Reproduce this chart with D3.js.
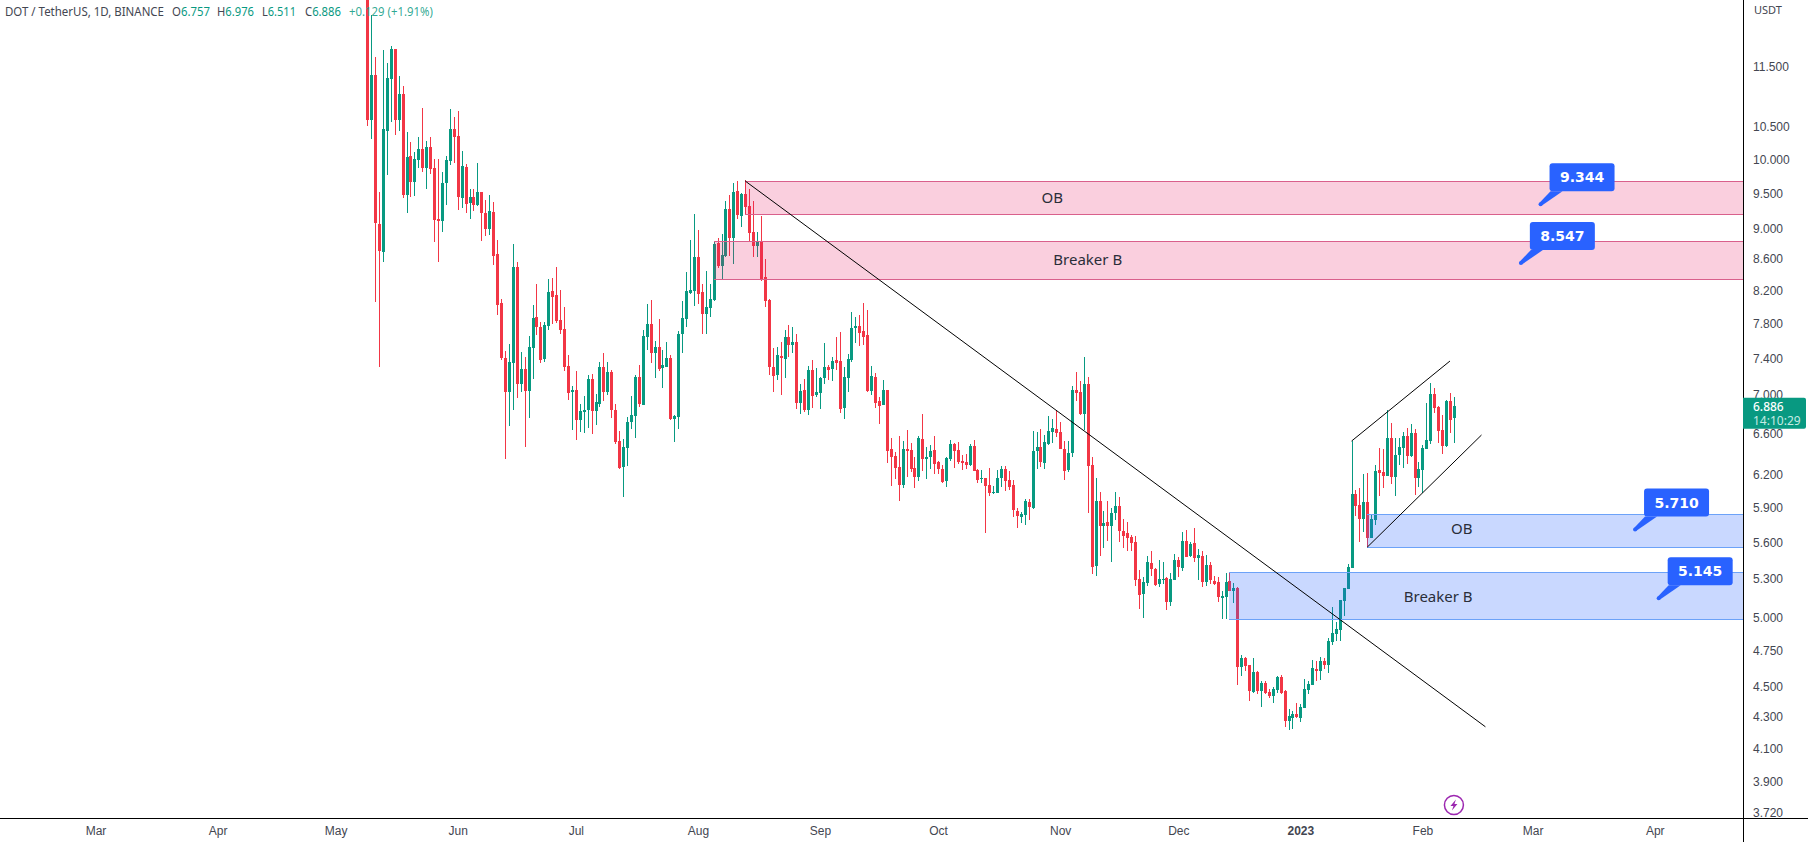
<!DOCTYPE html>
<html>
<head>
<meta charset="utf-8">
<style>
  html, body { margin: 0; padding: 0; background: #fff; overflow: hidden; }
  svg { display: block; font-family: "Noto Sans", sans-serif; }
  .tick text { fill: #434651; font-size: 12px; }
  .domain { display: none; }
</style>
<script src="https://cdnjs.cloudflare.com/ajax/libs/d3/7.8.5/d3.min.js"></script>
</head>
<body>
<svg id="chart" width="1808" height="842"></svg>
<script>
// daily DOT/USDT candles, first one is 2022-05-09
const firstDay = new Date(Date.UTC(2022, 4, 9));

const opens = [
  13.4,10.613,11.361,9.067,8.691,10.438,11.292,11.817,10.613,11.04,
  9.474,10.05,9.662,9.989,10.157,9.869,10.188,9.869,9.136,9.108,
  9.647,9.974,10.47,10.36,9.43,9.883,9.36,9.445,9.33,9.517,
  9.22,8.998,9.233,8.665,8.045,7.40,7.03,7.347,8.495,7.117,
  7.28,7.04,7.515,7.877,7.758,7.39,7.77,8.19,8.144,7.84,
  7.735,7.315,7.03,7.053,6.739,6.82,6.842,7.17,6.83,6.905,
  7.30,7.03,7.247,6.842,6.528,6.277,6.46,6.72,6.78,7.193,
  6.895,7.64,7.794,7.46,7.527,7.29,7.30,7.40,6.75,6.77,
  7.677,7.853,8.168,8.193,8.625,8.18,7.913,7.983,8.082,8.81,
  8.508,8.638,9.275,8.877,9.53,9.176,9.488,9.318,8.958,8.77,
  8.837,8.368,8.082,7.30,7.215,7.425,7.39,7.64,7.55,7.585,
  6.915,7.053,6.842,7.269,7.0,7.02,7.18,7.30,7.28,7.38,
  7.369,6.863,7.18,7.38,7.747,7.77,7.712,7.665,7.04,7.193,
  6.936,6.894,7.053,6.45,6.38,6.277,6.108,6.45,6.44,6.267,
  6.18,6.548,6.353,6.372,6.44,6.324,6.258,6.145,6.353,6.498,
  6.44,6.334,6.324,6.296,6.478,6.248,6.163,6.172,6.108,6.035,
  6.035,6.172,6.258,6.154,6.108,5.872,5.82,5.837,5.953,5.90,
  6.43,6.47,6.315,6.498,6.618,6.648,6.618,6.45,6.248,6.41,
  7.053,7.03,6.80,7.117,6.296,5.402,5.962,5.74,5.776,5.74,
  5.855,5.917,5.697,5.68,5.646,5.603,5.298,5.18,5.266,5.428,
  5.378,5.258,5.29,5.306,5.116,5.29,5.452,5.386,5.61,5.485,
  5.594,5.468,5.485,5.274,5.41,5.282,5.274,5.147,5.155,5.282,
  5.20,5.226,4.637,4.70,4.651,4.465,4.602,4.472,4.526,4.465,
  4.438,4.478,4.568,4.472,4.273,4.293,4.32,4.293,4.358,4.478,
  4.512,4.623,4.609,4.68,4.651,4.816,4.875,4.904,5.124,5.218,
  5.386,6.026,5.926,5.80,5.953,5.637,5.793,6.248,6.23,6.192,
  6.558,6.18,6.39,6.46,6.578,6.38,6.608,6.172,6.248,6.45,
  6.528,7.01,6.873,6.638,6.478,6.936,6.757
];

const highs = [
  14.2,12.441,11.68,9.517,11.799,11.57,11.87,11.82,11.34,11.17,
  10.42,10.27,10.11,10.345,10.81,10.28,10.345,10.0,10.0,9.81,
  10.05,10.79,10.66,10.76,10.13,9.93,9.56,9.56,9.94,9.52,
  9.40,9.47,9.37,8.85,8.10,7.48,7.56,8.80,8.56,7.47,
  7.41,7.65,8.02,8.28,7.82,7.82,8.34,8.36,8.495,8.205,
  7.995,7.435,7.095,7.26,6.90,6.99,7.21,7.23,7.01,7.36,
  7.46,7.36,7.27,6.90,6.63,6.55,6.77,6.99,7.215,7.325,
  7.72,8.03,8.08,7.595,7.85,7.49,7.585,7.435,6.79,7.71,
  8.07,8.43,8.85,9.20,8.985,8.28,8.445,8.28,8.837,8.877,
  8.93,9.39,9.47,9.647,9.68,9.50,9.69,9.56,9.39,8.958,
  9.18,8.60,8.094,7.515,7.527,7.585,7.72,7.78,7.758,7.677,
  7.117,7.17,7.315,7.38,7.29,7.193,7.57,7.325,7.41,7.64,
  7.70,7.30,7.447,7.937,7.877,7.90,8.045,7.96,7.315,7.236,
  6.98,7.16,7.053,6.558,6.42,6.578,6.528,6.638,6.51,6.372,
  6.578,6.80,6.47,6.49,6.578,6.334,6.296,6.372,6.538,6.51,
  6.518,6.39,6.40,6.498,6.538,6.258,6.248,6.172,6.267,6.099,
  6.248,6.286,6.286,6.239,6.154,5.90,5.864,5.98,5.98,6.628,
  6.62,6.648,6.588,6.78,6.75,6.842,6.72,6.528,6.528,7.095,
  7.247,7.15,7.41,7.193,6.372,6.172,6.044,5.872,5.962,5.90,
  6.044,5.998,5.80,5.776,5.663,5.654,5.37,5.315,5.485,5.527,
  5.386,5.452,5.436,5.314,5.345,5.502,5.477,5.688,5.706,5.603,
  5.723,5.543,5.527,5.494,5.436,5.322,5.314,5.20,5.345,5.353,
  5.266,5.234,4.722,4.708,4.651,4.70,4.61,4.54,4.54,4.485,
  4.498,4.575,4.58,4.478,4.352,4.339,4.39,4.385,4.553,4.54,
  4.686,4.68,4.708,4.70,4.845,5.078,4.965,5.132,5.226,5.42,
  6.528,6.062,6.08,6.21,6.22,5.846,6.296,6.46,6.45,6.842,
  6.71,6.558,6.558,6.618,6.658,6.70,6.648,6.324,6.49,6.915,
  7.127,7.074,6.884,6.79,6.947,7.02,6.976
];

const lows = [
  10.518,10.31,8.06,7.305,8.56,9.765,10.58,10.375,10.44,9.43,
  9.22,9.445,9.46,9.87,9.81,9.56,9.78,8.82,8.56,8.96,
  9.33,9.91,9.94,9.26,9.29,9.22,9.136,9.25,9.32,8.84,
  8.905,8.92,8.52,7.90,7.38,6.35,6.68,6.84,6.97,7.03,
  6.47,6.76,7.17,7.665,7.35,7.36,7.72,7.79,7.805,7.68,
  7.26,6.947,6.638,6.538,6.62,6.61,6.66,6.60,6.69,6.87,
  6.935,7.0,6.76,6.50,6.258,5.998,6.286,6.65,6.56,6.87,
  6.895,7.49,7.35,7.18,7.26,7.075,7.30,6.74,6.52,6.65,
  7.46,7.76,8.155,8.01,8.03,7.68,7.68,7.877,8.07,8.48,
  8.34,8.625,8.638,8.535,9.136,9.03,9.19,8.84,8.625,8.625,
  8.32,7.995,7.215,7.03,7.16,7.0,7.18,7.41,7.46,6.853,
  6.80,6.82,6.79,6.863,6.98,6.853,7.117,7.16,7.15,7.269,
  6.81,6.75,7.03,7.358,7.57,7.54,7.55,7.03,7.0,6.863,
  6.70,6.894,6.315,6.10,6.163,5.962,6.08,6.18,6.23,6.08,
  6.145,6.24,6.163,6.258,6.21,6.21,6.127,6.09,6.334,6.267,
  6.305,6.248,6.258,6.286,6.239,6.127,6.127,5.68,6.007,6.026,
  6.035,6.09,6.053,6.062,5.82,5.723,5.767,5.75,5.793,5.89,
  6.258,6.277,6.258,6.49,6.51,6.568,6.45,6.154,6.23,6.372,
  6.936,6.79,6.638,5.855,5.337,5.322,5.485,5.552,5.61,5.436,
  5.793,5.603,5.552,5.53,5.527,5.24,5.063,4.994,5.24,5.322,
  5.24,5.234,5.258,5.055,5.085,5.29,5.314,5.362,5.477,5.477,
  5.436,5.29,5.234,5.24,5.258,5.25,5.116,4.987,4.987,5.20,
  5.108,4.512,4.575,4.61,4.404,4.458,4.451,4.365,4.451,4.425,
  4.39,4.458,4.451,4.235,4.215,4.222,4.293,4.267,4.358,4.451,
  4.512,4.54,4.547,4.623,4.595,4.794,4.823,4.823,5.01,5.218,
  5.386,5.828,5.603,5.688,5.56,5.637,5.75,6.007,6.08,6.192,
  6.118,6.007,6.296,6.267,6.305,6.372,6.016,6.09,6.035,6.45,
  6.498,6.81,6.508,6.40,6.47,6.608,6.511
];

const closes = [
  10.613,11.361,9.081,8.704,10.47,11.309,11.817,10.613,11.04,9.474,
  10.035,9.662,10.0,10.157,9.869,10.188,9.854,9.122,9.108,9.647,
  9.989,10.47,10.345,9.445,9.898,9.346,9.445,9.33,9.517,9.22,
  8.998,9.25,8.638,8.02,7.40,7.03,7.358,8.495,7.117,7.28,
  7.04,7.527,7.865,7.758,7.38,7.78,8.18,8.12,7.83,7.72,
  7.30,7.02,7.053,6.739,6.832,6.842,7.17,6.83,6.925,7.30,
  7.03,7.247,6.842,6.518,6.267,6.47,6.72,6.79,7.193,6.905,
  7.653,7.794,7.46,7.527,7.28,7.325,7.40,6.75,6.78,7.677,
  7.865,8.193,8.205,8.625,8.155,7.913,7.995,8.094,8.797,8.508,
  8.65,9.275,8.877,9.517,9.19,9.488,9.30,8.945,8.77,8.837,
  8.343,8.07,7.30,7.204,7.436,7.40,7.64,7.55,7.585,6.915,
  7.04,6.842,7.269,6.99,7.03,7.18,7.30,7.269,7.37,7.347,
  6.853,7.193,7.39,7.747,7.77,7.688,7.64,7.04,7.204,6.915,
  6.884,7.053,6.43,6.372,6.267,6.108,6.45,6.43,6.258,6.18,
  6.558,6.353,6.372,6.43,6.305,6.258,6.136,6.362,6.498,6.43,
  6.324,6.315,6.296,6.478,6.239,6.154,6.172,6.099,6.035,6.044,
  6.172,6.258,6.145,6.09,5.881,5.828,5.846,5.962,5.908,6.43,
  6.47,6.324,6.518,6.628,6.658,6.608,6.45,6.239,6.41,7.053,
  7.02,6.80,7.117,6.286,5.394,5.962,5.74,5.767,5.74,5.855,
  5.917,5.697,5.654,5.637,5.594,5.29,5.17,5.274,5.436,5.378,
  5.25,5.298,5.298,5.116,5.298,5.452,5.394,5.61,5.477,5.586,
  5.468,5.494,5.274,5.41,5.29,5.258,5.155,5.163,5.274,5.20,
  5.226,4.637,4.70,4.644,4.472,4.602,4.472,4.526,4.458,4.438,
  4.485,4.568,4.458,4.273,4.305,4.32,4.30,4.365,4.485,4.52,
  4.63,4.609,4.68,4.651,4.823,4.882,4.911,5.132,5.226,5.394,
  6.026,5.917,5.80,5.953,5.637,5.80,6.239,6.22,6.192,6.558,
  6.18,6.39,6.47,6.578,6.38,6.608,6.172,6.258,6.46,6.538,
  7.01,6.863,6.628,6.478,6.936,6.739,6.886
];

const priceTicks = [11.5, 10.5, 10, 9.5, 9, 8.6, 8.2, 7.8, 7.4, 7, 6.6, 6.2, 5.9, 5.6, 5.3, 5, 4.75, 4.5, 4.3, 4.1, 3.9, 3.72];

const monthTicks = ["2022-03-01", "2022-04-01", "2022-05-01", "2022-06-01", "2022-07-01", "2022-08-01", "2022-09-01",
  "2022-10-01", "2022-11-01", "2022-12-01", "2023-01-01", "2023-02-01", "2023-03-01", "2023-04-01"];

// boxes run from their start day to the price axis
const zones = [
  { label: "OB", start: "2022-08-13", top: 9.677, bottom: 9.2, labelAt: "2022-10-30", labelPrice: 9.43, color: "pink" },
  { label: "Breaker B", start: "2022-08-05", top: 8.837, bottom: 8.349, labelAt: "2022-11-08", labelPrice: 8.59, color: "pink" },
  { label: "OB", start: "2023-01-18", top: 5.843, bottom: 5.565, labelAt: "2023-02-11", labelPrice: 5.72, color: "blue" },
  { label: "Breaker B", start: "2022-12-14", top: 5.352, bottom: 4.989, labelAt: "2023-02-05", labelPrice: 5.16, color: "blue" }
];

const trendLines = [
  { from: ["2022-08-13", 9.677], to: ["2023-02-17", 4.236] },
  { from: ["2023-01-14", 6.528], to: ["2023-02-08", 7.369] },
  { from: ["2023-01-18", 5.56], to: ["2023-02-16", 6.588] }
];

const callouts = [
  { day: "2023-03-03", price: 9.344 },
  { day: "2023-02-26", price: 8.547 },
  { day: "2023-03-27", price: 5.71 },
  { day: "2023-04-02", price: 5.145 }
];

const lastPrice = 6.886;

const width = 1808, height = 842;
const plotW = 1743, plotH = 818;
const green = "#089981", red = "#f23645";

const day = s => new Date(s + "T00:00:00Z");

const candles = opens.map((o, i) => ({
  date: d3.utcDay.offset(firstDay, i), o, h: highs[i], l: lows[i], c: closes[i]
}));

const x = d3.scaleUtc()
  .domain([Date.UTC(2022, 1, 4, 18), Date.UTC(2023, 3, 23, 10)])
  .range([0, plotW]);

const y = d3.scaleLog()
  .domain([12.727, 3.6898])
  .range([0, plotH]);

const svg = d3.select("#chart");

svg.append("defs").append("clipPath").attr("id", "plot")
  .append("rect").attr("width", plotW).attr("height", plotH);

const plot = svg.append("g").attr("clip-path", "url(#plot)");

// candles
const candle = plot.append("g").attr("shape-rendering", "crispEdges")
  .selectAll("g").data(candles).join("g")
  .attr("fill", d => d.c >= d.o ? green : red);

candle.append("rect")
  .attr("x", d => Math.round(x(d.date)))
  .attr("width", 1)
  .attr("y", d => Math.round(y(d.h)))
  .attr("height", d => Math.max(1, Math.round(y(d.l)) - Math.round(y(d.h))));

candle.append("rect")
  .attr("x", d => Math.round(x(d.date)) - 1)
  .attr("width", 3)
  .attr("y", d => Math.round(y(Math.max(d.o, d.c))))
  .attr("height", d => Math.max(1, Math.round(y(Math.min(d.o, d.c))) - Math.round(y(Math.max(d.o, d.c)))));

// zones
const zoneFill = { pink: "rgba(233,30,99,0.21)", blue: "rgba(41,98,255,0.25)" };
const zoneLine = { pink: "#d9608c", blue: "#6ca2f8" };

const zone = plot.append("g").selectAll("g").data(zones).join("g");

zone.append("rect")
  .attr("shape-rendering", "crispEdges")
  .attr("x", d => Math.round(x(day(d.start))))
  .attr("y", d => Math.round(y(d.top)))
  .attr("width", d => plotW - Math.round(x(day(d.start))))
  .attr("height", d => Math.round(y(d.bottom)) - Math.round(y(d.top)))
  .attr("fill", d => zoneFill[d.color]);

zone.selectAll("line").data(d => [d.top, d.bottom].map(p => ({ p, d }))).join("line")
  .attr("shape-rendering", "crispEdges")
  .attr("x1", e => Math.round(x(day(e.d.start))))
  .attr("x2", plotW)
  .attr("y1", e => Math.round(y(e.p)) + 0.5)
  .attr("y2", e => Math.round(y(e.p)) + 0.5)
  .attr("stroke", e => zoneLine[e.d.color]);

zone.append("text")
  .attr("x", d => x(day(d.labelAt)))
  .attr("y", d => y(d.labelPrice))
  .attr("dy", "0.35em")
  .attr("text-anchor", "middle")
  .attr("font-size", 15)
  .attr("fill", "#2a2e39")
  .text(d => d.label);

// trend lines
plot.append("g").selectAll("line").data(trendLines).join("line")
  .attr("x1", d => x(day(d.from[0])))
  .attr("y1", d => y(d.from[1]))
  .attr("x2", d => x(day(d.to[0])))
  .attr("y2", d => y(d.to[1]))
  .attr("stroke", "#000")
  .attr("stroke-width", 1);

// price callouts
const callout = plot.append("g").selectAll("g").data(callouts).join("g")
  .attr("transform", d => `translate(${x(day(d.day))},${y(d.price)})`);

callout.append("path")
  .attr("d", "M-1,-1.5 L10,-13 L22,-13 L1,1.5 Z")
  .attr("fill", "#2962ff");

callout.append("circle").attr("r", 2).attr("fill", "#2962ff");

callout.append("rect")
  .attr("x", 9).attr("y", -41)
  .attr("width", 65).attr("height", 28)
  .attr("rx", 3)
  .attr("fill", "#2962ff");

callout.append("text")
  .attr("x", 41.5).attr("y", -27)
  .attr("dy", "0.36em")
  .attr("text-anchor", "middle")
  .attr("fill", "#fff")
  .attr("font-family", "DejaVu Sans")
  .attr("font-weight", 700)
  .attr("font-size", 14)
  .text(d => d3.format(".3f")(d.price));

// lightning mark above the time axis
const bolt = svg.append("g")
  .attr("transform", `translate(${x(day("2023-02-09"))},805)`);
bolt.append("circle").attr("r", 9.5).attr("fill", "#fff").attr("stroke", "#9c27b0").attr("stroke-width", 1.5);
bolt.append("path").attr("d", "M2,-5.5 L-3.5,1 L-0.5,1 L-2,5.5 L3.5,-1 L0.5,-1 Z").attr("fill", "#9c27b0");

// axes
const yAxis = svg.append("g")
  .attr("transform", `translate(${plotW},0)`)
  .call(d3.axisRight(y).tickValues(priceTicks).tickSize(0).tickPadding(10).tickFormat(d3.format(".3f")));

const xAxis = svg.append("g")
  .attr("transform", `translate(0,${plotH})`)
  .call(d3.axisBottom(x).tickValues(monthTicks.map(day)).tickSize(0).tickPadding(8)
    .tickFormat(d => d.getUTCMonth() === 0 ? String(d.getUTCFullYear()) : d3.utcFormat("%b")(d)));

xAxis.selectAll(".tick text")
  .attr("font-weight", d => d.getUTCMonth() === 0 ? 700 : null);

svg.append("line").attr("x1", plotW + 0.5).attr("x2", plotW + 0.5).attr("y1", 0).attr("y2", height)
  .attr("stroke", "#000").attr("shape-rendering", "crispEdges");
svg.append("line").attr("x1", 0).attr("x2", width).attr("y1", plotH + 0.5).attr("y2", plotH + 0.5)
  .attr("stroke", "#000").attr("shape-rendering", "crispEdges");

svg.append("text").attr("x", 1754).attr("y", 14).attr("font-size", 11).attr("fill", "#434651").text("USDT");

// last price tag
const tagY = y(lastPrice);
const tag = svg.append("g").attr("transform", `translate(${plotW},${tagY})`);
tag.append("path").attr("d", "M0,-8 H61 Q63,-8 63,-6 V21 Q63,23 61,23 H0 Z").attr("fill", green);
tag.append("text").attr("x", 10).attr("y", 5).attr("font-size", 12).attr("font-weight", 500).attr("fill", "#fff")
  .text(d3.format(".3f")(lastPrice));
tag.append("text").attr("x", 10).attr("y", 19.5).attr("font-size", 12).attr("fill", "#c5ebe3").text("14:10:29");

// legend, squeezed to the widths of the original font
const last = candles[candles.length - 1];
const fmt = d3.format(".3f");
const legend = svg.append("g").attr("font-size", 13).attr("transform", "translate(0,16)");
legend.append("text").attr("x", 5).attr("fill", "#434651")
  .attr("textLength", 159).attr("lengthAdjust", "spacingAndGlyphs")
  .text("DOT / TetherUS, 1D, BINANCE");
[["O", last.o, 172, 38], ["H", last.h, 217, 37], ["L", last.l, 262, 34], ["C", last.c, 305, 36]].forEach(([k, v, px, w]) => {
  const t = legend.append("text").attr("x", px).attr("fill", "#434651")
    .attr("textLength", w).attr("lengthAdjust", "spacingAndGlyphs");
  t.append("tspan").text(k);
  t.append("tspan").attr("fill", green).text(fmt(v));
});
legend.append("text").attr("x", 349).attr("fill", green).attr("fill-opacity", 0.85)
  .attr("textLength", 84).attr("lengthAdjust", "spacingAndGlyphs")
  .text(`+${(last.c - last.o).toFixed(3)} (+1.91%)`);
</script>
</body>
</html>
